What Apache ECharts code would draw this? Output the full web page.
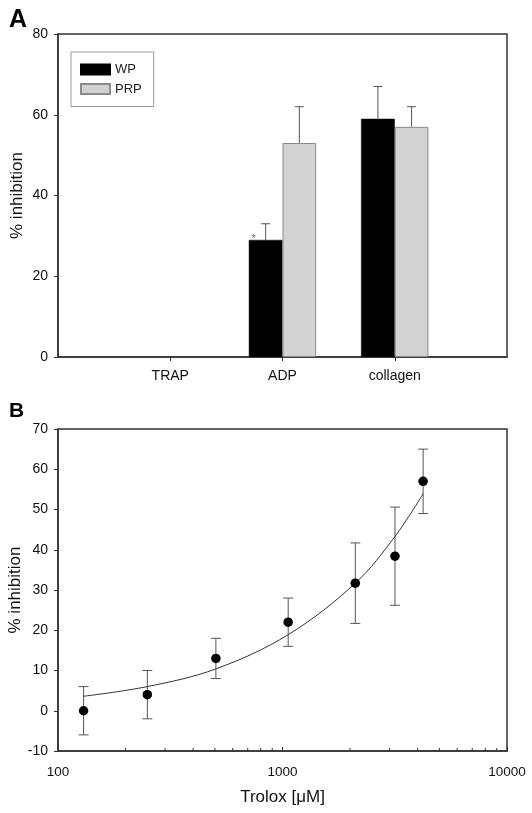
<!DOCTYPE html>
<html><head><meta charset="utf-8">
<script src="https://cdn.jsdelivr.net/npm/echarts@6/dist/echarts.min.js"></script>
<style>html,body{margin:0;padding:0;background:#fff}#c{width:532px;height:813px}</style>
</head><body><div id="c"></div>
<script>
// ---- Panel A data ----
const agonists = ['', 'TRAP', 'ADP', 'collagen', ''];
const wpMean  = [null, 0, 29, 59, null];
const wpErr   = [null, 0, 4, 8, null];
const prpMean = [null, 0, 53, 57, null];
const prpErr  = [null, 0, 9, 5, null];
const seriesNames = ['WP', 'PRP'];
const significant = [false, false, true, false, false]; // WP vs PRP

// ---- Panel B data ----
const troloxDose = [130, 250, 505, 1060, 2110, 3170, 4230];
const inhibMean  = [0, 4, 13, 22, 31.7, 38.4, 57];
const inhibErr   = [6, 6, 5, 6, 10, 12.2, 8];
const fitDose    = [130, 250, 505, 1060, 2110, 3170, 4230];
const fitInhib   = [3.6, 6.0, 10.4, 18.9, 31.7, 43.3, 53.9];
const minorTickValues = [200,300,400,500,600,700,800,900,2000,3000,4000,5000,6000,7000,8000,9000];

const FONT = 'Liberation Sans, Arial, Helvetica, sans-serif';
const AX = '#333';

function barErr(side) {
  return function (params, api) {
    const i = api.value(0), m = api.value(1), e = api.value(2);
    if (!e) return null;
    const band = api.size([1, 0])[0];
    const x = api.coord([i, m])[0] + side * band * 0.15;
    const y0 = api.coord([i, m])[1], y1 = api.coord([i, m + e])[1];
    return { type: 'group', children: [
      { type: 'line', shape: { x1: x, y1: y0, x2: x, y2: y1 }, style: { stroke: '#555', lineWidth: 1 } },
      { type: 'line', shape: { x1: x - 4.5, y1: y1, x2: x + 4.5, y2: y1 }, style: { stroke: '#555', lineWidth: 1 } }
    ]};
  };
}
function idxData(means, errs) {
  return means.map((m, i) => m == null ? null : [i, m, errs[i]]).filter(d => d);
}
function barData(means, withStar) {
  return means.map((v, i) => {
    if (v === 0) return { value: v, itemStyle: { borderWidth: 0, opacity: 0 } };
    if (withStar && significant[i]) return { value: v, label: { show: true, formatter: '*', position: 'top', distance: 0, offset: [-12, 5], fontSize: 11, color: '#666', fontFamily: FONT } };
    return v;
  });
}

const option = {
  animation: false,
  backgroundColor: '#fff',
  textStyle: { fontFamily: FONT },
  title: [
    { text: 'A', left: 9, top: 8, padding: 0, textStyle: { fontSize: 25, fontWeight: 'bold', color: '#000', fontFamily: FONT } },
    { text: 'B', left: 9, top: 401, padding: 0, textStyle: { fontSize: 21, fontWeight: 'bold', color: '#000', fontFamily: FONT } }
  ],
  legend: {
    data: [{ name: 'WP', icon: 'rect' }, { name: 'PRP', icon: 'rect' }],
    orient: 'vertical', left: 71, top: 52,
    padding: [11, 12, 11, 9], itemWidth: 29, itemHeight: 10, itemGap: 6.5,
    borderColor: '#999', borderWidth: 1,
    textStyle: { fontSize: 13, color: '#222', fontFamily: FONT }
  },
  grid: [
    { left: 58, top: 34, width: 449, height: 323, show: true, borderColor: AX, borderWidth: 1.5, containLabel: false, outerBoundsMode: 'none' },
    { left: 58, top: 429, width: 449, height: 322, show: true, borderColor: AX, borderWidth: 1.5, containLabel: false, outerBoundsMode: 'none' }
  ],
  xAxis: [
    { gridIndex: 0, type: 'category', data: agonists, boundaryGap: false,
      axisLine: { onZero: false, lineStyle: { color: AX, width: 1.5 } },
      axisTick: { show: true, length: 4, lineStyle: { color: AX }, interval: (i) => i >= 1 && i <= 3 },
      axisLabel: { interval: 0, margin: 12, fontSize: 14, color: '#111', fontFamily: FONT },
      splitLine: { show: false } },
    { gridIndex: 1, type: 'log', logBase: 10, min: 100, max: 10000,
      name: 'Trolox [\u03bcM]', nameLocation: 'middle', nameGap: 38, nameMoveOverlap: false,
      nameTextStyle: { fontSize: 17, color: '#111', fontFamily: FONT },
      axisLine: { onZero: false, lineStyle: { color: AX, width: 1.5 } },
      axisTick: { show: true, inside: true, length: 4, lineStyle: { color: AX } },
      axisLabel: { margin: 14, fontSize: 13.5, color: '#111', fontFamily: FONT, formatter: (v) => String(Math.round(v)) },
      splitLine: { show: false } }
  ],
  yAxis: [
    { gridIndex: 0, type: 'value', min: 0, max: 80, interval: 20,
      name: '% inhibition', nameLocation: 'middle', nameGap: 32, nameMoveOverlap: false,
      nameTextStyle: { fontSize: 17, color: '#111', fontFamily: FONT },
      axisLine: { show: true, onZero: false, lineStyle: { color: AX, width: 1.5 } },
      axisTick: { show: true, length: 4, lineStyle: { color: AX } },
      axisLabel: { margin: 10, fontSize: 14, color: '#111', fontFamily: FONT },
      splitLine: { show: false } },
    { gridIndex: 1, type: 'value', min: -10, max: 70, interval: 10,
      name: '% inhibition', nameLocation: 'middle', nameGap: 34, nameMoveOverlap: false,
      nameTextStyle: { fontSize: 17, color: '#111', fontFamily: FONT },
      axisLine: { show: true, onZero: false, lineStyle: { color: AX, width: 1.5 } },
      axisTick: { show: true, length: 4, lineStyle: { color: AX } },
      axisLabel: { margin: 10, fontSize: 14, color: '#111', fontFamily: FONT },
      splitLine: { show: false } }
  ],
  series: [
    { name: 'WP', type: 'bar', xAxisIndex: 0, yAxisIndex: 0, data: barData(wpMean, true),
      barWidth: '30%', barGap: '0%',
      itemStyle: { color: '#000', borderColor: '#000', borderWidth: 0.5 } },
    { name: 'PRP', type: 'bar', xAxisIndex: 0, yAxisIndex: 0, data: barData(prpMean, false),
      barWidth: '30%', barGap: '0%',
      itemStyle: { color: '#d2d2d2', borderColor: '#8a8a8a', borderWidth: 1 } },
    { type: 'custom', xAxisIndex: 0, yAxisIndex: 0, renderItem: barErr(-1),
      data: idxData(wpMean, wpErr), silent: true, z: 5 },
    { type: 'custom', xAxisIndex: 0, yAxisIndex: 0, renderItem: barErr(1),
      data: idxData(prpMean, prpErr), silent: true, z: 5 },
    // Panel B
    { type: 'line', xAxisIndex: 1, yAxisIndex: 1, smooth: 0.35, showSymbol: false,
      data: fitDose.map((d, i) => [d, fitInhib[i]]),
      lineStyle: { color: '#333', width: 1 }, silent: true },
    { type: 'custom', xAxisIndex: 1, yAxisIndex: 1, silent: true, z: 3,
      data: troloxDose.map((d, i) => [d, inhibMean[i], inhibErr[i]]),
      renderItem: function (params, api) {
        const x = api.value(0), m = api.value(1), e = api.value(2);
        const pt = api.coord([x, m + e]), pb = api.coord([x, m - e]);
        const st = { stroke: '#555', lineWidth: 1 };
        return { type: 'group', children: [
          { type: 'line', shape: { x1: pt[0], y1: pt[1], x2: pb[0], y2: pb[1] }, style: st },
          { type: 'line', shape: { x1: pt[0] - 5, y1: pt[1], x2: pt[0] + 5, y2: pt[1] }, style: st },
          { type: 'line', shape: { x1: pb[0] - 5, y1: pb[1], x2: pb[0] + 5, y2: pb[1] }, style: st }
        ]};
      } },
    { type: 'scatter', xAxisIndex: 1, yAxisIndex: 1, symbol: 'circle', symbolSize: 9.5, z: 6,
      data: troloxDose.map((d, i) => [d, inhibMean[i]]),
      itemStyle: { color: '#000', opacity: 1 } },
    { type: 'custom', xAxisIndex: 1, yAxisIndex: 1, silent: true, clip: false,
      data: minorTickValues.map(v => [v, -10]),
      renderItem: function (params, api) {
        const p = api.coord([api.value(0), api.value(1)]);
        return { type: 'line', shape: { x1: p[0], y1: p[1], x2: p[0], y2: p[1] - 3 }, style: { stroke: AX, lineWidth: 1 } };
      } }
  ]
};
const chart = echarts.init(document.getElementById('c'), null, { renderer: 'canvas' });
chart.setOption(option);
</script>
</body></html>
